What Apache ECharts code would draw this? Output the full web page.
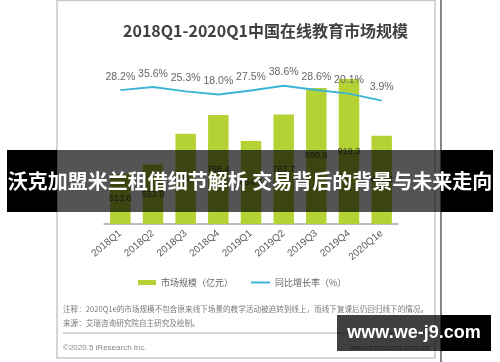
<!DOCTYPE html>
<html>
<head>
<meta charset="utf-8">
<script src="https://cdn.jsdelivr.net/npm/echarts@6/dist/echarts.min.js"></script>
<style>
html,body{margin:0;padding:0;background:#fff;}
#chart{width:500px;height:362px;}
</style>
</head>
<body>
<div id="chart"></div>
<script>
const categories = ['2018Q1','2018Q2','2018Q3','2018Q4','2019Q1','2019Q2','2019Q3','2019Q4','2020Q1e'];
const marketSize = [513.6, 553.9, 685.4, 765.4, 654.6, 767.7, 880.6, 919.3, 676.2];
const growthRate = [28.2, 35.6, 25.3, 18.0, 27.5, 38.6, 28.6, 20.1, 3.9];
const seriesNames = ['市场规模（亿元）', '同比增长率（%）'];
const titleText = '2018Q1-2020Q1中国在线教育市场规模';
const noteLines = ['注释：2020Q1e的市场规模不包含原来线下场景的教学活动被迫转到线上，而线下复课后仍回归线下的情况。', '来源：艾瑞咨询研究院自主研究及绘制。'];
const footerLeft = '©2020.5 iResearch Inc.';
const footerRight = 'www.iresearch.com.cn';
const bannerText = '沃克加盟米兰租借细节解析 交易背后的背景与未来走向';
const watermarkText = 'www.we-j9.com';

const cjk = "'Noto Sans CJK SC', 'Noto Sans', sans-serif";
const latin = "'Liberation Sans Narrow', 'Liberation Sans', 'Noto Sans CJK SC', sans-serif";

const chart = echarts.init(document.getElementById('chart'), null, {renderer: 'canvas'});
chart.setOption({
  animation: false,
  backgroundColor: '#fff',
  title: {
    text: titleText,
    left: 123, top: 23, padding: 0,
    textStyle: {fontFamily: cjk, fontSize: 16, fontWeight: 'bold', color: '#404040'}
  },
  grid: {left: 104, right: 102, top: 60, bottom: 138, containLabel: false},
  legend: [
    {
      left: 138, top: 278, padding: 0,
      itemWidth: 18, itemHeight: 5,
      textStyle: {fontFamily: cjk, fontSize: 9, color: '#666'},
      data: [{name: seriesNames[0], icon: 'rect'}]
    },
    {
      left: 251, top: 278, padding: 0,
      itemWidth: 19, itemHeight: 2,
      textStyle: {fontFamily: cjk, fontSize: 9, color: '#666'},
      data: [{name: seriesNames[1], icon: 'rect'}]
    }
  ],
  xAxis: {
    type: 'category', data: categories,
    axisLine: {onZero: false, lineStyle: {color: '#a6a6a6', width: 1.5}},
    axisTick: {show: false},
    axisLabel: {rotate: 40, margin: 8, fontSize: 10, color: '#595959', fontFamily: "'Liberation Sans', sans-serif"}
  },
  yAxis: [
    {type: 'value', min: 300, max: 1000, show: false, splitLine: {show: false}},
    {type: 'value', min: -282, max: 98, show: false, splitLine: {show: false}}
  ],
  series: [
    {
      name: seriesNames[0], type: 'bar', data: marketSize, barWidth: 20.5,
      itemStyle: {color: '#b4d234'},
      label: {show: true, position: 'inside', fontSize: 9, color: '#404040',
        fontFamily: "'Liberation Sans', sans-serif",
        formatter: p => p.value.toFixed(1)}
    },
    {
      name: seriesNames[1], type: 'line', yAxisIndex: 1, data: growthRate,
      symbol: 'circle', symbolSize: 0.1, showSymbol: true,
      lineStyle: {color: '#3cb4d6', width: 2}, itemStyle: {color: '#3cb4d6'},
      label: {show: true, position: 'top', distance: 8, fontSize: 10.5, color: '#666',
        fontFamily: latin,
        formatter: p => p.value.toFixed(1) + '%'}
    }
  ],
  graphic: [
    {type: 'rect', z: 50, silent: true, shape: {x: 57, y: 0.5, width: 378, height: 357.5},
      style: {fill: 'none', stroke: '#c8c8c8', lineWidth: 1.5}},
    {type: 'line', z: 50, silent: true, shape: {x1: 441, y1: 0, x2: 441, y2: 362},
      style: {stroke: '#333', lineWidth: 1.2}},
    {type: 'text', z: 50, silent: true, x: 63, y: 309,
      style: {text: noteLines[0], fontFamily: cjk, fontSize: 7.6, fill: '#7a7a7a', textVerticalAlign: 'middle'}},
    {type: 'text', z: 50, silent: true, x: 63, y: 323,
      style: {text: noteLines[1], fontFamily: cjk, fontSize: 7.6, fill: '#7a7a7a', textVerticalAlign: 'middle'}},
    {type: 'line', z: 50, silent: true, shape: {x1: 63, y1: 333, x2: 430, y2: 333},
      style: {stroke: '#aaa', lineWidth: 1}},
    {type: 'text', z: 50, silent: true, x: 63, y: 348,
      style: {text: footerLeft, fontFamily: "'Liberation Sans', sans-serif", fontSize: 8, fill: '#888', textVerticalAlign: 'middle'}},
    {type: 'text', z: 50, silent: true, x: 430, y: 348,
      style: {text: footerRight, fontFamily: "'Liberation Sans', sans-serif", fontSize: 8, fill: '#888', textAlign: 'right', textVerticalAlign: 'middle'}},
    {type: 'rect', z: 100, silent: true, shape: {x: 7, y: 150, width: 50, height: 62}, style: {fill: '#000'}},
    {type: 'rect', z: 100, silent: true, shape: {x: 57, y: 150, width: 384, height: 62}, style: {fill: 'rgba(0,0,0,0.67)'}},
    {type: 'rect', z: 100, silent: true, shape: {x: 441, y: 150, width: 52, height: 62}, style: {fill: '#000'}},
    {type: 'text', z: 101, silent: true, x: 250, y: 181,
      style: {text: bannerText, fontFamily: cjk, fontSize: 20, fontWeight: 'bold', fill: '#fff', textAlign: 'center', textVerticalAlign: 'middle'}},
    {type: 'rect', z: 100, silent: true, shape: {x: 337, y: 315, width: 104, height: 36}, style: {fill: 'rgba(0,0,0,0.75)'}},
    {type: 'rect', z: 100, silent: true, shape: {x: 441, y: 315, width: 50, height: 36}, style: {fill: '#000'}},
    {type: 'text', z: 101, silent: true, x: 414, y: 333,
      style: {text: watermarkText, fontFamily: "'Liberation Sans', sans-serif", fontSize: 18, fontWeight: 'bold', fill: '#fff', textAlign: 'center', textVerticalAlign: 'middle'}}
  ]
});
</script>
</body>
</html>
